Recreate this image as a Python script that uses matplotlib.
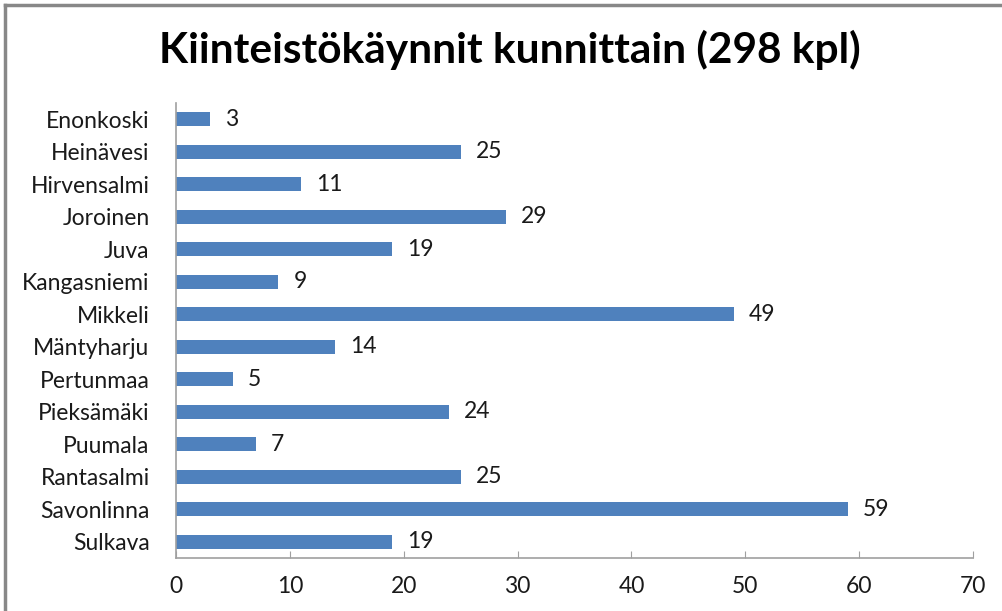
import matplotlib.pyplot as plt
from matplotlib.lines import Line2D

# Kiinteistökäynnit kunnittain
kunnat = ['Enonkoski', 'Heinävesi', 'Hirvensalmi', 'Joroinen', 'Juva',
          'Kangasniemi', 'Mikkeli', 'Mäntyharju', 'Pertunmaa', 'Pieksämäki',
          'Puumala', 'Rantasalmi', 'Savonlinna', 'Sulkava']
kaynnit = [3, 25, 11, 29, 19, 9, 49, 14, 5, 24, 7, 25, 59, 19]
xticks = [0, 10, 20, 30, 40, 50, 60, 70]

plt.rcParams['font.family'] = ['Lato', 'DejaVu Sans']

W, H = 1003, 611
fig = plt.figure(figsize=(W / 100, H / 100), dpi=100, facecolor='w')
ax = fig.add_axes([176 / W, 1 - 558 / H, (973 - 176) / W, (558 - 103) / H])

ypos = list(range(len(kunnat)))
ax.barh(ypos, kaynnit, height=0.42, color='#4F81BD')
for y, v in zip(ypos, kaynnit):
    ax.text(v + 1.3, y, str(v), va='center', ha='left', fontsize=16.5, color='#1a1a1a')

ax.set_ylim(len(kunnat) - 0.5, -0.5)
ax.set_yticks(ypos)
ax.set_yticklabels(kunnat, fontsize=16.5, color='#1a1a1a')
ax.set_xlim(0, 70)
ax.set_xticks(xticks)
ax.set_xticklabels([str(t) for t in xticks], fontsize=16.5, color='#1a1a1a')

ax.tick_params(axis='y', length=0, pad=19)
ax.tick_params(axis='x', direction='in', length=5, color='#a0a0a0', pad=13)
for s in ['top', 'right']:
    ax.spines[s].set_visible(False)
for s in ['left', 'bottom']:
    ax.spines[s].set_color('#a0a0a0')
    ax.spines[s].set_linewidth(1.2)

fig.text(510 / W, 1 - 50 / H, 'Kiinteistökäynnit kunnittain (298 kpl)',
         ha='center', va='center', fontsize=30.5, fontweight='bold', color='black')

# harmaa kehys (vain ylä- ja vasen reuna näkyvissä)
fig.add_artist(Line2D([5 / W, 1], [1 - 5 / H, 1 - 5 / H], color='#888888', lw=2.5,
                      transform=fig.transFigure))
fig.add_artist(Line2D([5 / W, 5 / W], [0, 1 - 5 / H], color='#888888', lw=2.5,
                      transform=fig.transFigure))

fig.savefig('out.png', dpi=100)
